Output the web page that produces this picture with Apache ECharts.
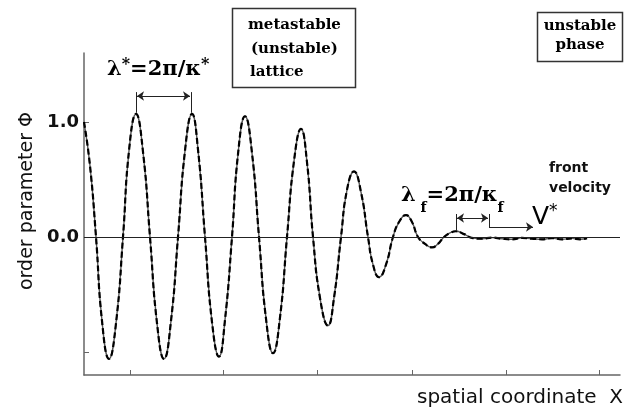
<!DOCTYPE html>
<html>
<head>
<meta charset="utf-8">
<script src="https://cdn.jsdelivr.net/npm/echarts@6/dist/echarts.min.js"></script>
<style>
html, body { margin: 0; padding: 0; background: #fff; }
#chart { width: 630px; height: 412px; }
</style>
</head>
<body>
<div id="chart"></div>
<script>
// spatial coordinate X (arbitrary units, 0 = left end of the axis)
var xs = [0, 6, 12, 18, 25, 32, 39, 45, 52, 59,
          66, 73, 80, 87, 94, 101, 108, 114, 121, 128,
          135, 141, 148, 154, 161, 168, 175, 182, 189, 196,
          203, 210, 217, 223, 229, 236, 244, 250, 257, 263,
          270, 277, 284, 289, 295, 302, 309, 315, 322, 328,
          334, 341, 348, 354, 360, 366, 372, 380, 389,
          398, 408, 418, 428, 438, 448, 458, 468, 478, 488, 496, 503];
// order parameter phi
var phi = [1.00, 0.62, 0, -0.73, -1.06, -0.75, 0, 0.75, 1.07, 0.74,
           0, -0.75, -1.06, -0.73, 0, 0.75, 1.07, 0.76, 0, -0.74,
           -1.04, -0.72, 0, 0.72, 1.05, 0.73, 0, -0.71, -1.01, -0.7,
           0, 0.66, 0.94, 0.65, 0, -0.53, -0.77, -0.53, 0, 0.41,
           0.57, 0.39, 0, -0.24, -0.35, -0.24, 0, 0.13, 0.19, 0.13,
           0, -0.06, -0.09, -0.06, 0, 0.035, 0.05, 0.025, -0.01,
           -0.015, -0.005, -0.015, -0.02, -0.008, -0.015, -0.02, -0.01, -0.02, -0.012, -0.02, -0.01];

var xTicks = [46, 139, 233, 328, 422, 515];
var yTicks = [-1, 0, 1];
var yLabels = [0, 1];

var curve = xs.map(function (x, i) { return [x, phi[i]]; });

var sans = '"DejaVu Sans", sans-serif';
var serif = '"DejaVu Serif", serif';

// annotation segment between two data points
function seg(x1, y1, x2, y2, s1, s2) {
    return [
        { coord: [x1, y1], symbol: s1 || 'none' },
        { coord: [x2, y2], symbol: s2 || 'none' }
    ];
}

var myChart = echarts.init(document.getElementById('chart'));

var option = {
    animation: false,
    backgroundColor: '#fff',
    grid: { left: 84, right: 10, top: 53, bottom: 37 },
    xAxis: {
        type: 'value',
        min: 0,
        max: 536,
        name: 'spatial coordinate  X',
        nameLocation: 'end',
        nameGap: 3,
        nameTextStyle: {
            fontFamily: sans, fontSize: 20, color: '#111',
            align: 'right', verticalAlign: 'top', padding: [13, 0, 0, 0]
        },
        axisLine: { onZero: false, lineStyle: { color: '#666', width: 1.5 } },
        axisTick: { inside: true, length: 5, customValues: xTicks, lineStyle: { color: '#666' } },
        axisLabel: { show: false },
        splitLine: { show: false }
    },
    yAxis: {
        type: 'value',
        min: -1.2,
        max: 1.6,
        name: 'order parameter \u03a6',
        nameLocation: 'middle',
        nameGap: 44,
        nameTextStyle: {
            fontFamily: sans, fontSize: 19, color: '#111', padding: [0, 0, 0, 26]
        },
        axisLine: { lineStyle: { color: '#666', width: 1.5 } },
        axisTick: { inside: true, length: 5, customValues: yTicks, lineStyle: { color: '#666' } },
        axisLabel: {
            customValues: yLabels,
            margin: 5,
            fontFamily: sans, fontWeight: 'bold', fontSize: 18, color: '#111',
            formatter: function (v) { return v.toFixed(1); }
        },
        splitLine: { show: false }
    },
    series: [
        {
            name: 'phi',
            type: 'line',
            data: curve,
            smooth: true,
            showSymbol: false,
            lineStyle: { color: '#555', width: 1.4 },
            z: 3,
            markLine: {
                silent: true,
                animation: false,
                symbol: ['none', 'none'],
                symbolSize: 7,
                label: { show: false },
                lineStyle: { color: '#222', width: 1, type: 'solid' },
                data: [
                    [{ coord: [0, 0] }, { coord: [536, 0] }],
                    // lambda* marker
                    seg(52, 1.08, 52, 1.26),
                    seg(107, 1.08, 107, 1.26),
                    seg(53, 1.226, 106, 1.226, 'arrow', 'arrow'),
                    // lambda_f marker
                    seg(372, 0.06, 372, 0.2),
                    seg(405, 0.085, 405, 0.2),
                    seg(373, 0.165, 404, 0.165, 'arrow', 'arrow'),
                    // front velocity arrow
                    seg(405, 0.087, 449, 0.087, 'none', 'arrow')
                ]
            }
        },
        {
            name: 'phi-dash',
            type: 'line',
            data: curve,
            smooth: true,
            showSymbol: false,
            silent: true,
            lineStyle: { color: '#000', width: 2.2, type: [6, 3] },
            z: 4
        }
    ],
    graphic: [
        {
            type: 'rect',
            shape: { x: 232.5, y: 8.5, width: 123, height: 79 },
            style: { fill: '#fff', stroke: '#333', lineWidth: 1.5 }
        },
        { type: 'text', x: 248, y: 25, style: { text: 'metastable', font: 'bold 15px ' + serif, fill: '#000', verticalAlign: 'middle' } },
        { type: 'text', x: 251, y: 49, style: { text: '(unstable)', font: 'bold 15px ' + serif, fill: '#000', verticalAlign: 'middle' } },
        { type: 'text', x: 250, y: 72, style: { text: 'lattice', font: 'bold 15px ' + serif, fill: '#000', verticalAlign: 'middle' } },
        {
            type: 'rect',
            shape: { x: 537.5, y: 12.5, width: 85, height: 49 },
            style: { fill: '#fff', stroke: '#333', lineWidth: 1.5 }
        },
        { type: 'text', x: 580, y: 26, style: { text: 'unstable', font: 'bold 15px ' + serif, fill: '#000', align: 'center', verticalAlign: 'middle' } },
        { type: 'text', x: 580, y: 45, style: { text: 'phase', font: 'bold 15px ' + serif, fill: '#000', align: 'center', verticalAlign: 'middle' } },
        {
            type: 'text', x: 107, y: 70,
            style: {
                text: '{m|\u03bb}{s|*}{m|=2\u03c0/\u03ba}{s|*}',
                verticalAlign: 'middle',
                rich: {
                    m: { fontFamily: serif, fontWeight: 'bold', fontSize: 21, lineHeight: 26, fill: '#000' },
                    s: { fontFamily: serif, fontWeight: 'bold', fontSize: 16, lineHeight: 16, fill: '#000', verticalAlign: 'top' }
                }
            }
        },
        {
            type: 'text', x: 401, y: 196,
            style: {
                text: '{m|\u03bb}{s| f}{m|=2\u03c0/\u03ba}{s|f}',
                verticalAlign: 'middle',
                rich: {
                    m: { fontFamily: serif, fontWeight: 'bold', fontSize: 21, lineHeight: 38, fill: '#000' },
                    s: { fontFamily: serif, fontWeight: 'bold', fontSize: 14, lineHeight: 14, fill: '#000', verticalAlign: 'bottom' }
                }
            }
        },
        {
            type: 'text', x: 532, y: 217,
            style: {
                text: '{m|V}{s|*}',
                verticalAlign: 'middle',
                rich: {
                    m: { fontFamily: sans, fontSize: 25, lineHeight: 28, fill: '#000' },
                    s: { fontFamily: sans, fontSize: 17, lineHeight: 17, fill: '#000', verticalAlign: 'top' }
                }
            }
        },
        {
            type: 'text', x: 549, y: 178,
            style: {
                text: 'front\nvelocity',
                font: 'bold 14px ' + sans,
                lineHeight: 20,
                fill: '#111',
                verticalAlign: 'middle'
            }
        }
    ]
};

myChart.setOption(option, true);
</script>
</body>
</html>
